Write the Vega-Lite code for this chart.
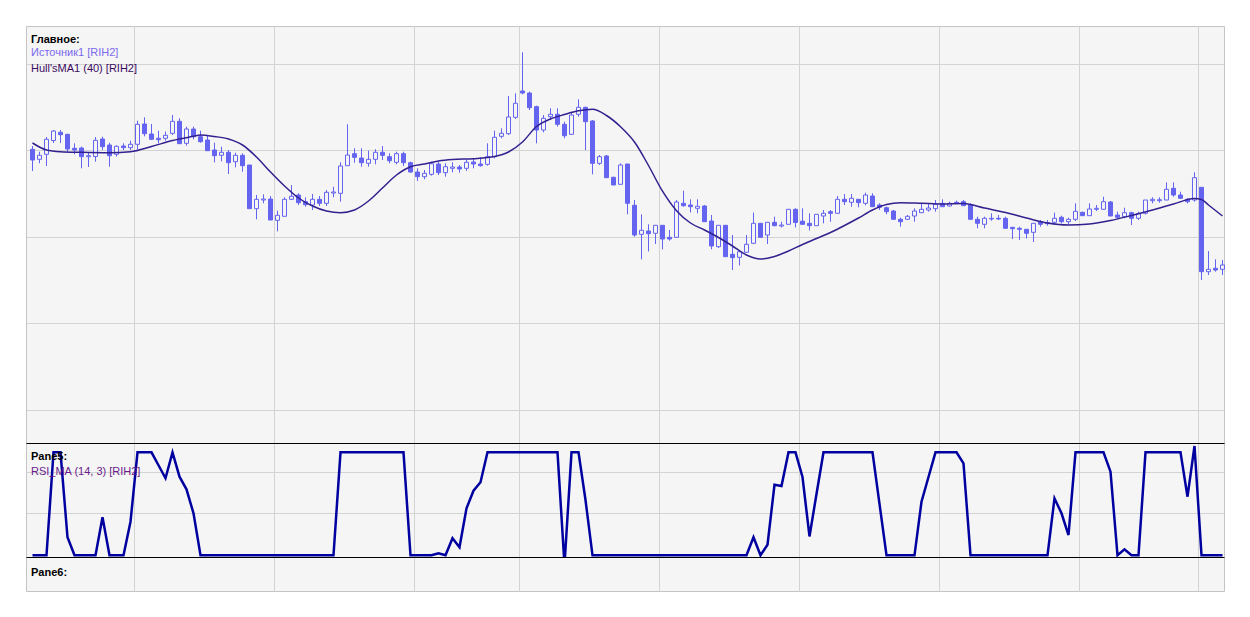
{
  "$schema": "https://vega.github.io/schema/vega-lite/v6.json",
  "background": "white",
  "padding": {"left": 25, "top": 25, "right": 26, "bottom": 26},
  "autosize": {"type": "pad"},
  "spacing": 0,
  "bounds": "flush",
  "config": {
    "view": {"stroke": "#c4c4c4", "strokeWidth": 1, "fill": "#f5f5f5"},
    "font": "Liberation Sans",
    "axis": {"gridColor": "#d3d3d3", "gridWidth": 1, "labels": false, "ticks": false, "domain": false}
  },
  "title": {
    "text": "Главное:",
    "subtitle": "Источник1 [RIH2]",
    "anchor": "start",
    "frame": "group",
    "orient": "top",
    "offset": -32.7,
    "dx": 5,
    "zindex": 1,
    "font": "Liberation Sans",
    "fontSize": 11,
    "fontWeight": "bold",
    "color": "#000000",
    "subtitleFont": "Liberation Sans",
    "subtitleFontSize": 11,
    "subtitleColor": "#7B68EE",
    "subtitlePadding": 2.4
  },
  "datasets": {
    "candles": [
      {"n":0,"o":158507,"h":158540,"l":158290,"c":158400,"rsi":0},
      {"n":1,"o":158407,"h":158483,"l":158367,"c":158447,"rsi":0},
      {"n":2,"o":158457,"h":158630,"l":158340,"c":158607,"rsi":0},
      {"n":3,"o":158595,"h":158700,"l":158570,"c":158690,"rsi":100},
      {"n":4,"o":158677,"h":158700,"l":158570,"c":158653,"rsi":100},
      {"n":5,"o":158657,"h":158660,"l":158480,"c":158510,"rsi":17.5},
      {"n":6,"o":158517,"h":158567,"l":158457,"c":158500,"rsi":0},
      {"n":7,"o":158520,"h":158533,"l":158317,"c":158433,"rsi":0},
      {"n":8,"o":158433,"h":158470,"l":158330,"c":158443,"rsi":0},
      {"n":9,"o":158435,"h":158630,"l":158383,"c":158597,"rsi":0},
      {"n":10,"o":158610,"h":158633,"l":158500,"c":158533,"rsi":36.9},
      {"n":11,"o":158550,"h":158573,"l":158333,"c":158443,"rsi":0},
      {"n":12,"o":158457,"h":158547,"l":158433,"c":158537,"rsi":0},
      {"n":13,"o":158540,"h":158567,"l":158500,"c":158523,"rsi":0},
      {"n":14,"o":158523,"h":158593,"l":158500,"c":158557,"rsi":32.6},
      {"n":15,"o":158557,"h":158793,"l":158507,"c":158757,"rsi":100},
      {"n":16,"o":158760,"h":158827,"l":158637,"c":158663,"rsi":100},
      {"n":17,"o":158660,"h":158760,"l":158600,"c":158607,"rsi":100},
      {"n":18,"o":158617,"h":158693,"l":158567,"c":158603,"rsi":87.4},
      {"n":19,"o":158617,"h":158683,"l":158593,"c":158647,"rsi":74.8},
      {"n":20,"o":158667,"h":158850,"l":158650,"c":158787,"rsi":100},
      {"n":21,"o":158787,"h":158817,"l":158563,"c":158563,"rsi":76.3},
      {"n":22,"o":158567,"h":158733,"l":158543,"c":158710,"rsi":64.1},
      {"n":23,"o":158710,"h":158733,"l":158607,"c":158633,"rsi":40.8},
      {"n":24,"o":158633,"h":158693,"l":158573,"c":158583,"rsi":0},
      {"n":25,"o":158600,"h":158640,"l":158490,"c":158493,"rsi":0},
      {"n":26,"o":158500,"h":158573,"l":158377,"c":158443,"rsi":0},
      {"n":27,"o":158447,"h":158533,"l":158387,"c":158477,"rsi":0},
      {"n":28,"o":158477,"h":158500,"l":158260,"c":158373,"rsi":0},
      {"n":29,"o":158383,"h":158473,"l":158327,"c":158447,"rsi":0},
      {"n":30,"o":158447,"h":158467,"l":158283,"c":158343,"rsi":0},
      {"n":31,"o":158350,"h":158350,"l":157913,"c":157913,"rsi":0},
      {"n":32,"o":157913,"h":158050,"l":157807,"c":158007,"rsi":0},
      {"n":33,"o":158000,"h":158057,"l":157967,"c":158010,"rsi":0},
      {"n":34,"o":158010,"h":158040,"l":157800,"c":157800,"rsi":0},
      {"n":35,"o":157797,"h":157893,"l":157687,"c":157847,"rsi":0},
      {"n":36,"o":157837,"h":158027,"l":157837,"c":158007,"rsi":0},
      {"n":37,"o":158007,"h":158150,"l":158000,"c":158037,"rsi":0},
      {"n":38,"o":158050,"h":158067,"l":157950,"c":157973,"rsi":0},
      {"n":39,"o":157983,"h":158027,"l":157933,"c":157953,"rsi":0},
      {"n":40,"o":157950,"h":158060,"l":157900,"c":158007,"rsi":0},
      {"n":41,"o":158007,"h":158040,"l":157940,"c":157967,"rsi":0},
      {"n":42,"o":157967,"h":158100,"l":157940,"c":158077,"rsi":0},
      {"n":43,"o":158070,"h":158133,"l":158027,"c":158080,"rsi":0},
      {"n":44,"o":158067,"h":158377,"l":157983,"c":158340,"rsi":100},
      {"n":45,"o":158343,"h":158757,"l":158343,"c":158450,"rsi":100},
      {"n":46,"o":158463,"h":158517,"l":158373,"c":158427,"rsi":100},
      {"n":47,"o":158420,"h":158517,"l":158333,"c":158373,"rsi":100},
      {"n":48,"o":158367,"h":158493,"l":158333,"c":158407,"rsi":100},
      {"n":49,"o":158407,"h":158507,"l":158357,"c":158477,"rsi":100},
      {"n":50,"o":158477,"h":158540,"l":158400,"c":158447,"rsi":100},
      {"n":51,"o":158433,"h":158467,"l":158367,"c":158393,"rsi":100},
      {"n":52,"o":158377,"h":158483,"l":158357,"c":158463,"rsi":100},
      {"n":53,"o":158463,"h":158483,"l":158340,"c":158373,"rsi":100},
      {"n":54,"o":158373,"h":158383,"l":158273,"c":158280,"rsi":0},
      {"n":55,"o":158280,"h":158317,"l":158190,"c":158233,"rsi":0},
      {"n":56,"o":158233,"h":158300,"l":158207,"c":158267,"rsi":0},
      {"n":57,"o":158257,"h":158383,"l":158243,"c":158363,"rsi":0},
      {"n":58,"o":158360,"h":158383,"l":158250,"c":158273,"rsi":1.9},
      {"n":59,"o":158273,"h":158367,"l":158233,"c":158333,"rsi":0},
      {"n":60,"o":158317,"h":158377,"l":158277,"c":158330,"rsi":16.5},
      {"n":61,"o":158330,"h":158350,"l":158273,"c":158310,"rsi":7.8},
      {"n":62,"o":158317,"h":158400,"l":158290,"c":158377,"rsi":45.6},
      {"n":63,"o":158380,"h":158417,"l":158317,"c":158360,"rsi":62.7},
      {"n":64,"o":158360,"h":158427,"l":158333,"c":158343,"rsi":70.9},
      {"n":65,"o":158357,"h":158567,"l":158343,"c":158433,"rsi":100},
      {"n":66,"o":158433,"h":158693,"l":158417,"c":158627,"rsi":100},
      {"n":67,"o":158637,"h":158717,"l":158617,"c":158667,"rsi":100},
      {"n":68,"o":158663,"h":159040,"l":158650,"c":158830,"rsi":100},
      {"n":69,"o":158827,"h":159067,"l":158810,"c":158967,"rsi":100},
      {"n":70,"o":159090,"h":159477,"l":159057,"c":159070,"rsi":100},
      {"n":71,"o":159070,"h":159083,"l":158900,"c":158923,"rsi":100},
      {"n":72,"o":158933,"h":158943,"l":158567,"c":158700,"rsi":100},
      {"n":73,"o":158700,"h":158850,"l":158677,"c":158817,"rsi":100},
      {"n":74,"o":158833,"h":158917,"l":158800,"c":158857,"rsi":100},
      {"n":75,"o":158857,"h":158917,"l":158733,"c":158757,"rsi":100},
      {"n":76,"o":158757,"h":158783,"l":158617,"c":158643,"rsi":-9.4},
      {"n":77,"o":158657,"h":158883,"l":158650,"c":158850,"rsi":100},
      {"n":78,"o":158857,"h":159007,"l":158833,"c":158927,"rsi":100},
      {"n":79,"o":158927,"h":158933,"l":158500,"c":158783,"rsi":53.7},
      {"n":80,"o":158790,"h":158800,"l":158257,"c":158367,"rsi":0},
      {"n":81,"o":158367,"h":158450,"l":158350,"c":158433,"rsi":0},
      {"n":82,"o":158440,"h":158450,"l":158223,"c":158223,"rsi":0},
      {"n":83,"o":158227,"h":158233,"l":158150,"c":158150,"rsi":0},
      {"n":84,"o":158157,"h":158367,"l":158157,"c":158350,"rsi":0},
      {"n":85,"o":158360,"h":158360,"l":157857,"c":157967,"rsi":0},
      {"n":86,"o":157947,"h":158000,"l":157633,"c":157650,"rsi":0},
      {"n":87,"o":157657,"h":157857,"l":157407,"c":157697,"rsi":0},
      {"n":88,"o":157690,"h":157757,"l":157485,"c":157663,"rsi":0},
      {"n":89,"o":157667,"h":157747,"l":157560,"c":157747,"rsi":0},
      {"n":90,"o":157747,"h":157747,"l":157507,"c":157610,"rsi":0},
      {"n":91,"o":157627,"h":157700,"l":157593,"c":157610,"rsi":0},
      {"n":92,"o":157627,"h":158000,"l":157623,"c":157980,"rsi":0},
      {"n":93,"o":157967,"h":158093,"l":157933,"c":157943,"rsi":0},
      {"n":94,"o":157950,"h":158007,"l":157875,"c":157933,"rsi":0},
      {"n":95,"o":157917,"h":158007,"l":157867,"c":157937,"rsi":0},
      {"n":96,"o":157940,"h":157950,"l":157783,"c":157783,"rsi":0},
      {"n":97,"o":157790,"h":157850,"l":157507,"c":157540,"rsi":0},
      {"n":98,"o":157533,"h":157747,"l":157520,"c":157747,"rsi":0},
      {"n":99,"o":157747,"h":157747,"l":157433,"c":157433,"rsi":0},
      {"n":100,"o":157457,"h":157650,"l":157300,"c":157423,"rsi":0},
      {"n":101,"o":157427,"h":157490,"l":157345,"c":157483,"rsi":0},
      {"n":102,"o":157477,"h":157650,"l":157475,"c":157557,"rsi":0},
      {"n":103,"o":157567,"h":157875,"l":157560,"c":157767,"rsi":17.5},
      {"n":104,"o":157767,"h":157767,"l":157627,"c":157627,"rsi":0},
      {"n":105,"o":157650,"h":157777,"l":157560,"c":157777,"rsi":10.3},
      {"n":106,"o":157777,"h":157833,"l":157737,"c":157743,"rsi":68.5},
      {"n":107,"o":157740,"h":157783,"l":157725,"c":157750,"rsi":67.3},
      {"n":108,"o":157757,"h":157910,"l":157757,"c":157907,"rsi":100},
      {"n":109,"o":157907,"h":157917,"l":157725,"c":157775,"rsi":100},
      {"n":110,"o":157788,"h":157917,"l":157757,"c":157757,"rsi":76},
      {"n":111,"o":157767,"h":157867,"l":157695,"c":157743,"rsi":18.3},
      {"n":112,"o":157743,"h":157857,"l":157743,"c":157857,"rsi":59.5},
      {"n":113,"o":157840,"h":157900,"l":157767,"c":157867,"rsi":100},
      {"n":114,"o":157883,"h":157900,"l":157783,"c":157867,"rsi":100},
      {"n":115,"o":157867,"h":158040,"l":157867,"c":158007,"rsi":100},
      {"n":116,"o":158007,"h":158060,"l":157950,"c":157983,"rsi":100},
      {"n":117,"o":157977,"h":158060,"l":157933,"c":158017,"rsi":100},
      {"n":118,"o":158007,"h":158007,"l":157927,"c":157973,"rsi":100},
      {"n":119,"o":157967,"h":158073,"l":157947,"c":158050,"rsi":100},
      {"n":120,"o":158040,"h":158067,"l":157933,"c":157933,"rsi":100},
      {"n":121,"o":157950,"h":157967,"l":157900,"c":157927,"rsi":50},
      {"n":122,"o":157923,"h":157933,"l":157857,"c":157883,"rsi":0},
      {"n":123,"o":157890,"h":157900,"l":157807,"c":157807,"rsi":0},
      {"n":124,"o":157807,"h":157823,"l":157733,"c":157783,"rsi":0},
      {"n":125,"o":157807,"h":157850,"l":157800,"c":157837,"rsi":0},
      {"n":126,"o":157840,"h":157917,"l":157783,"c":157890,"rsi":0},
      {"n":127,"o":157873,"h":157967,"l":157873,"c":157907,"rsi":52},
      {"n":128,"o":157900,"h":157967,"l":157883,"c":157920,"rsi":76},
      {"n":129,"o":157913,"h":158000,"l":157883,"c":157957,"rsi":100},
      {"n":130,"o":157967,"h":158007,"l":157933,"c":157933,"rsi":100},
      {"n":131,"o":157940,"h":157983,"l":157933,"c":157967,"rsi":100},
      {"n":132,"o":157977,"h":157993,"l":157960,"c":157967,"rsi":100},
      {"n":133,"o":157983,"h":158000,"l":157943,"c":157943,"rsi":89.3},
      {"n":134,"o":157950,"h":157967,"l":157807,"c":157807,"rsi":0},
      {"n":135,"o":157807,"h":157833,"l":157717,"c":157767,"rsi":0},
      {"n":136,"o":157757,"h":157833,"l":157717,"c":157817,"rsi":0},
      {"n":137,"o":157810,"h":157867,"l":157793,"c":157817,"rsi":0},
      {"n":138,"o":157817,"h":157850,"l":157800,"c":157810,"rsi":0},
      {"n":139,"o":157817,"h":157833,"l":157717,"c":157717,"rsi":0},
      {"n":140,"o":157727,"h":157727,"l":157610,"c":157713,"rsi":0},
      {"n":141,"o":157717,"h":157733,"l":157600,"c":157707,"rsi":0},
      {"n":142,"o":157707,"h":157710,"l":157615,"c":157667,"rsi":0},
      {"n":143,"o":157677,"h":157770,"l":157580,"c":157767,"rsi":0},
      {"n":144,"o":157783,"h":157800,"l":157733,"c":157757,"rsi":0},
      {"n":145,"o":157773,"h":157800,"l":157743,"c":157763,"rsi":0},
      {"n":146,"o":157777,"h":157873,"l":157767,"c":157817,"rsi":55.3},
      {"n":147,"o":157827,"h":157843,"l":157767,"c":157783,"rsi":40.8},
      {"n":148,"o":157783,"h":157823,"l":157757,"c":157807,"rsi":19.7},
      {"n":149,"o":157807,"h":157967,"l":157790,"c":157887,"rsi":100},
      {"n":150,"o":157877,"h":157883,"l":157843,"c":157843,"rsi":100},
      {"n":151,"o":157843,"h":157967,"l":157843,"c":157910,"rsi":100},
      {"n":152,"o":157907,"h":157950,"l":157890,"c":157917,"rsi":100},
      {"n":153,"o":157907,"h":158033,"l":157907,"c":157983,"rsi":100},
      {"n":154,"o":157980,"h":157990,"l":157840,"c":157840,"rsi":81.2},
      {"n":155,"o":157850,"h":157883,"l":157810,"c":157827,"rsi":0},
      {"n":156,"o":157833,"h":157923,"l":157817,"c":157873,"rsi":5.8},
      {"n":157,"o":157873,"h":157883,"l":157750,"c":157817,"rsi":0},
      {"n":158,"o":157817,"h":157883,"l":157800,"c":157863,"rsi":0},
      {"n":159,"o":157867,"h":158000,"l":157855,"c":158000,"rsi":100},
      {"n":160,"o":157993,"h":158027,"l":157967,"c":158007,"rsi":100},
      {"n":161,"o":157993,"h":158027,"l":157973,"c":158003,"rsi":100},
      {"n":162,"o":158000,"h":158177,"l":158000,"c":158107,"rsi":100},
      {"n":163,"o":158117,"h":158177,"l":158033,"c":158050,"rsi":100},
      {"n":164,"o":158050,"h":158083,"l":158017,"c":158017,"rsi":100},
      {"n":165,"o":158007,"h":158017,"l":157967,"c":157983,"rsi":56.9},
      {"n":166,"o":158000,"h":158277,"l":157983,"c":158223,"rsi":106.1},
      {"n":167,"o":158127,"h":158127,"l":157200,"c":157283,"rsi":0},
      {"n":168,"o":157283,"h":157490,"l":157250,"c":157307,"rsi":0},
      {"n":169,"o":157317,"h":157407,"l":157283,"c":157300,"rsi":0},
      {"n":170,"o":157307,"h":157400,"l":157250,"c":157350,"rsi":0}
    ],
    "hull": [
      {"n":0,"hma":158570},{"n":2,"hma":158500},{"n":4,"hma":158483},{"n":7,"hma":158477},
      {"n":11,"hma":158473},{"n":14,"hma":158483},{"n":17,"hma":158535},{"n":20,"hma":158595},
      {"n":23,"hma":158637},{"n":24,"hma":158650},{"n":26,"hma":158635},{"n":28,"hma":158610},
      {"n":30,"hma":158550},{"n":32,"hma":158430},{"n":34,"hma":158280},{"n":36,"hma":158140},
      {"n":38,"hma":158020},{"n":40,"hma":157940},{"n":42,"hma":157890},{"n":44,"hma":157873},
      {"n":46,"hma":157900},{"n":48,"hma":157990},{"n":50,"hma":158120},{"n":52,"hma":158250},
      {"n":54,"hma":158333},{"n":56,"hma":158360},{"n":58,"hma":158390},{"n":60,"hma":158405},
      {"n":63,"hma":158413},{"n":66,"hma":158435},{"n":68,"hma":158480},{"n":70,"hma":158580},
      {"n":72,"hma":158735},{"n":74,"hma":158810},{"n":76,"hma":158855},{"n":78,"hma":158892},
      {"n":80,"hma":158908},{"n":82,"hma":158845},{"n":84,"hma":158733},{"n":86,"hma":158580},
      {"n":88,"hma":158345},{"n":90,"hma":158088},{"n":92,"hma":157893},{"n":94,"hma":157770},
      {"n":96,"hma":157700},{"n":98,"hma":157625},{"n":100,"hma":157540},{"n":102,"hma":157450},
      {"n":104,"hma":157410},{"n":106,"hma":157435},{"n":108,"hma":157490},{"n":110,"hma":157555},
      {"n":112,"hma":157615},{"n":114,"hma":157675},{"n":116,"hma":157745},{"n":118,"hma":157820},
      {"n":120,"hma":157900},{"n":122,"hma":157955},{"n":124,"hma":157973},{"n":127,"hma":157967},
      {"n":130,"hma":157960},{"n":133,"hma":157965},{"n":136,"hma":157920},{"n":139,"hma":157875},
      {"n":142,"hma":157820},{"n":145,"hma":157770},{"n":148,"hma":157750},{"n":151,"hma":157760},
      {"n":154,"hma":157795},{"n":157,"hma":157845},{"n":160,"hma":157900},{"n":163,"hma":157960},
      {"n":166,"hma":158015},{"n":167,"hma":158005},{"n":168,"hma":157950},{"n":170,"hma":157840}
    ]
  },
  "vconcat": [
    {
      "width": 1198,
      "height": 417,
      "title": {
        "text": "Hull'sMA1 (40) [RIH2]",
        "anchor": "start",
        "frame": "group",
        "orient": "top",
        "offset": -47.7,
        "dx": 5,
        "zindex": 1,
        "font": "Liberation Sans",
        "fontSize": 11,
        "fontWeight": "normal",
        "color": "#3A0A5E"
      },
      "encoding": {
        "x": {
          "field": "n",
          "type": "quantitative",
          "scale": {"domain": [-0.9286, 170.2143], "nice": false, "zero": false, "padding": 0},
          "axis": {"orient": "bottom", "values": [14.57, 34.57, 54.57, 69.57, 89.57, 109.57, 129.57, 149.57, 166.57], "grid": true, "domain": false, "title": null}
        }
      },
      "layer": [
        {
          "data": {"name": "candles"},
          "mark": {"type": "rule", "color": "#6464F0", "strokeWidth": 1},
          "encoding": {
            "y": {
              "field": "l",
              "type": "quantitative",
              "scale": {"domain": [155570, 159740], "nice": false, "zero": false},
              "axis": {"values": [155904, 156768, 157632, 158496, 159360], "grid": true, "title": null}
            },
            "y2": {"field": "h"}
          }
        },
        {
          "data": {"name": "candles"},
          "mark": {"type": "bar", "width": 4, "stroke": "#6464F0", "strokeWidth": 1},
          "encoding": {
            "y": {"field": "o", "type": "quantitative"},
            "y2": {"field": "c"},
            "fill": {"condition": {"test": "datum.c > datum.o", "value": "#f5f5f5"}, "value": "#6464F0"}
          }
        },
        {
          "data": {"name": "hull"},
          "mark": {"type": "line", "color": "#33208F", "strokeWidth": 1.5, "interpolate": "monotone"},
          "encoding": {
            "y": {"field": "hma", "type": "quantitative"}
          }
        }
      ]
    },
    {
      "width": 1198,
      "height": 114,
      "title": {
        "text": "Pane5:",
        "subtitle": "RSI_MA (14, 3) [RIH2]",
        "anchor": "start",
        "frame": "group",
        "orient": "top",
        "offset": -35.7,
        "dx": 5,
        "zindex": 1,
        "font": "Liberation Sans",
        "fontSize": 11,
        "fontWeight": "bold",
        "color": "#000000",
        "subtitleFont": "Liberation Sans",
        "subtitleFontSize": 11,
        "subtitleColor": "#6A1A8A",
        "subtitlePadding": 4
      },
      "data": {"name": "candles"},
      "mark": {"type": "line", "color": "#0000A0", "strokeWidth": 2.5, "clip": false},
      "encoding": {
        "x": {
          "field": "n",
          "type": "quantitative",
          "scale": {"domain": [-0.9286, 170.2143], "nice": false, "zero": false},
          "axis": {"orient": "top", "values": [14.57, 34.57, 54.57, 69.57, 89.57, 109.57, 129.57, 149.57, 166.57], "grid": true, "domain": true, "domainColor": "#000000", "domainWidth": 1, "title": null}
        },
        "y": {
          "field": "rsi",
          "type": "quantitative",
          "scale": {"domain": [-1.65, 109.03], "nice": false, "zero": false},
          "axis": {"values": [40.78, 80.58], "grid": true, "title": null}
        }
      }
    },
    {
      "width": 1198,
      "height": 34,
      "title": {
        "text": "Pane6:",
        "anchor": "start",
        "frame": "group",
        "orient": "top",
        "offset": -20.7,
        "dx": 5,
        "zindex": 1,
        "font": "Liberation Sans",
        "fontSize": 11,
        "fontWeight": "bold",
        "color": "#000000"
      },
      "data": {"name": "candles"},
      "mark": {"type": "tick", "opacity": 0},
      "encoding": {
        "x": {
          "field": "n",
          "type": "quantitative",
          "scale": {"domain": [-0.9286, 170.2143], "nice": false, "zero": false},
          "axis": {"orient": "top", "values": [14.57, 34.57, 54.57, 69.57, 89.57, 109.57, 129.57, 149.57, 166.57], "grid": true, "domain": true, "domainColor": "#000000", "domainWidth": 1, "title": null}
        }
      }
    }
  ]
}
